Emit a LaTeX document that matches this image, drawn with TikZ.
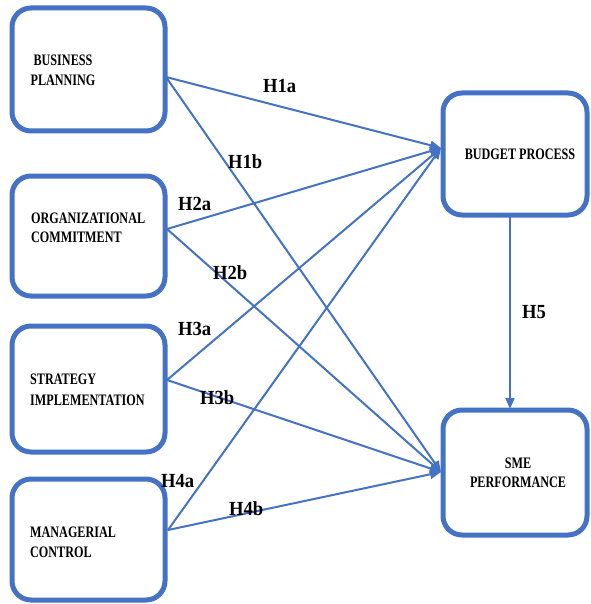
\documentclass[tikz,border=0pt]{standalone}
\usepackage{fontspec}
\usetikzlibrary{arrows.meta}
\newfontfamily\boxfnt[FakeStretch=0.76]{Liberation Serif}
\newfontfamily\labfnt[FakeStretch=0.93]{Liberation Serif}
\definecolor{obl}{HTML}{4472C4}
\begin{document}
\begin{tikzpicture}[x=1pt,y=-1pt,
  box/.style={draw=obl,line width=5pt,rounded corners=19pt,fill=white,inner sep=0pt},
  btxt/.style={font=\boxfnt\bfseries\fontsize{16}{19}\selectfont,inner sep=0pt},
  hlab/.style={font=\labfnt\bfseries\fontsize{20}{22}\selectfont,inner sep=0pt,anchor=base west},
  conn/.style={draw=obl,line width=2pt,-{Triangle[length=11pt,width=9pt]}}]
\useasboundingbox (0,0) rectangle (590,604);
% boxes
\node[box,minimum width=153pt,minimum height=123pt] (b1) at (88.5,69.5) {};
\node[box,minimum width=153pt,minimum height=120pt] (b2) at (88.5,236) {};
\node[box,minimum width=153pt,minimum height=126pt] (b3) at (88.5,389) {};
\node[box,minimum width=153pt,minimum height=121pt] (b4) at (88.5,539.5) {};
\node[box,minimum width=144pt,minimum height=122pt] (bp) at (515,154) {};
\node[box,minimum width=144pt,minimum height=125pt] (sp) at (515,472.5) {};
% box texts
\node[btxt,anchor=base] (t1a) at (63,66) {BUSINESS};
\node[btxt,anchor=base] (t1b) at (63,86) {PLANNING};
\node[btxt,anchor=base west] (t2a) at (31,223) {ORGANIZATIONAL};
\node[btxt,anchor=base west] (t2b) at (31,242) {COMMITMENT};
\node[btxt,anchor=base west] (t3a) at (30,384) {STRATEGY};
\node[btxt,anchor=base west] (t3b) at (30,405) {IMPLEMENTATION};
\node[btxt,anchor=base west] (t4a) at (30,537) {MANAGERIAL};
\node[btxt,anchor=base west] (t4b) at (30,557) {CONTROL};
\node[btxt,anchor=base] (tba) at (520,160) {BUDGET PROCESS};
\node[btxt,anchor=base] (tsa) at (518,468) {SME};
\node[btxt,anchor=base] (tsb) at (518,487) {PERFORMANCE};
% connector ends
\coordinate (s1) at (166,77);
\coordinate (s2) at (167,229);
\coordinate (s3) at (167,380);
\coordinate (s4) at (168,530);
\coordinate (tb) at (441,148);
\coordinate (ts) at (441,472);
\coordinate (bpb) at (510,216);
\coordinate (spt) at (510,409);
% connectors
\draw[conn] (s1) -- (tb);
\draw[conn] (s1) -- (ts);
\draw[conn] (s2) -- (tb);
\draw[conn] (s2) -- (ts);
\draw[conn] (s3) -- (tb);
\draw[conn] (s3) -- (ts);
\draw[conn] (s4) -- (tb);
\draw[conn] (s4) -- (ts);
\draw[conn] (bpb) -- (spt);
% labels
\node[hlab] (h1a) at (263,93) {H1a};
\node[hlab] (h1b) at (228,168) {H1b};
\node[hlab] (h2a) at (178,210) {H2a};
\node[hlab] (h2b) at (213,279) {H2b};
\node[hlab] (h3a) at (178,335) {H3a};
\node[hlab] (h3b) at (200,404) {H3b};
\node[hlab] (h4a) at (161,487) {H4a};
\node[hlab] (h4b) at (229,515) {H4b};
\node[hlab] (h5) at (522,318) {H5};
\end{tikzpicture}
\end{document}
